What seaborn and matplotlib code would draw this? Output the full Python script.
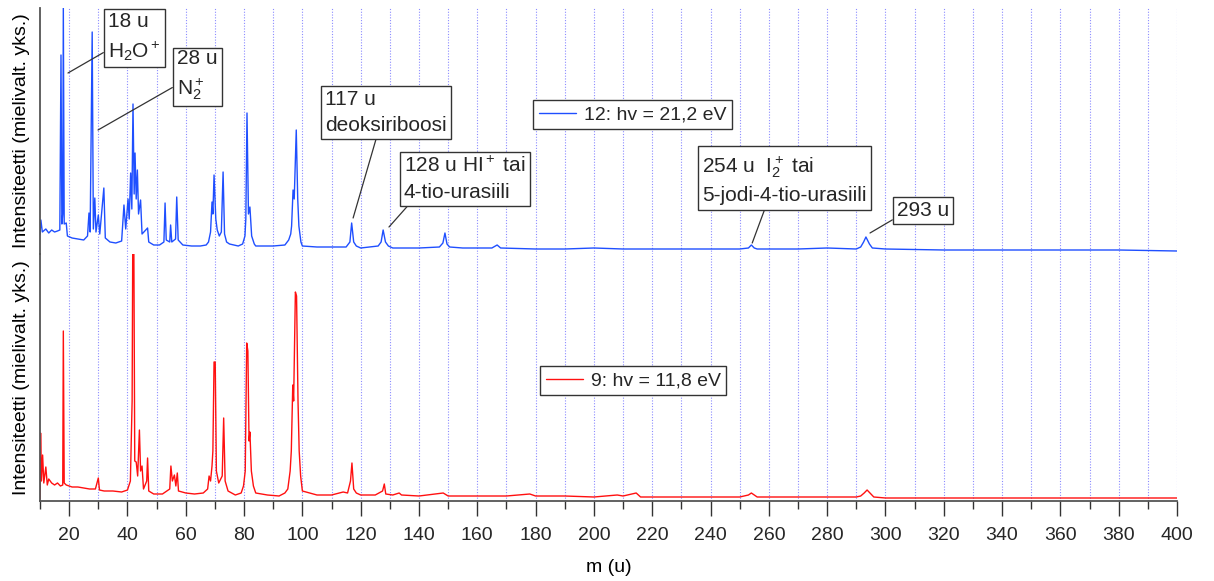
import matplotlib
matplotlib.use("Agg")
import matplotlib.pyplot as plt
import seaborn as sns
import numpy as np

# spectrum 12 (hv = 21,2 eV): mass (u) and intensity (arb.)
blue_m = [10.0, 10.3, 10.8, 12, 13, 14, 15, 16, 16.8, 17.2, 17.5, 17.8, 18.0, 18.3, 19.0, 19.4,
          21, 23, 25, 26.3, 26.8, 27.2, 27.9, 28.3, 28.8, 29.2, 30.0, 30.5, 31.9, 32.4, 34, 36, 38,
          38.8, 39.4, 40.2, 40.6, 41.1, 41.5, 41.9, 42.3, 42.6, 43.0, 43.4, 43.8, 44.5, 45, 46.9, 47.3,
          49, 51, 52.5, 52.9, 53.3, 54.5, 54.8, 55.2, 56.5, 56.9, 57.4, 59, 62, 65, 67, 67.8, 68.5,
          69.0, 69.3, 69.7, 70.3, 70.8, 71.5, 72.2, 72.8, 73.3, 74, 75, 78, 79.5, 80.3, 80.6, 81.0,
          81.5, 82.0, 82.6, 83.5, 84, 90, 94, 95.3, 96.0, 96.3, 96.8, 97.2, 97.9, 98.4, 98.8, 99.5,
          100, 105, 110, 115, 116.3, 116.9, 117.6, 118.5, 120, 126, 127.0, 127.7, 128.5, 129.5, 131,
          135, 140, 147, 148.2, 148.9, 149.6, 150.5, 155, 160, 165, 166.8, 168, 180, 190, 200, 210,
          230, 250, 253, 254, 255, 256, 270, 280, 290, 291.5, 292.5, 293.3, 294.5, 295.5, 300, 320,
          340, 360, 380, 400]
blue_i = [20, 34, 22, 25, 21, 24, 22, 23, 24, 199, 30, 40, 246, 30, 31, 18,
          16, 15, 14, 18, 41, 22, 222, 25, 56, 22, 39, 20, 66, 16, 12, 11, 13,
          49, 25, 55, 35, 81, 45, 150, 60, 101, 55, 84, 40, 54, 20, 26, 12,
          9, 9, 12, 51, 14, 12, 29, 12, 15, 57, 14, 9, 8, 8, 9, 12, 22,
          52, 40, 79, 35, 24, 18, 22, 82, 20, 12, 10, 8, 10, 18, 35, 141,
          40, 47, 18, 10, 8, 8, 9, 14, 20, 28, 64, 55, 124, 55, 28, 12,
          8, 7, 7, 7, 12, 31, 12, 8, 6, 8, 12, 24, 12, 8, 6,
          6, 6, 7, 11, 21, 10, 7, 6, 6, 6, 9, 6, 5, 5, 6, 5,
          5, 5, 6, 9, 6, 5, 5, 6, 5, 7, 12, 17, 10, 6, 5, 4,
          4, 4, 4, 3]

# spectrum 9 (hv = 11,8 eV)
red_m = [10.0, 10.2, 10.5, 10.9, 11.3, 12.0, 12.5, 13, 14, 15, 16, 17, 17.8, 18.0, 18.3, 19, 21,
         23, 25, 27, 29, 30.0, 30.4, 32, 35, 38, 40, 41, 41.6, 41.8, 42.2, 42.5, 43, 43.5, 44.1,
         44.5, 45, 45.5, 46.6, 46.9, 47.3, 49, 52, 54.5, 54.9, 55.4, 56.1, 56.6, 57.1, 57.5, 60,
         63, 66, 67.5, 68, 68.5, 69.0, 69.3, 69.7, 70.1, 70.5, 71.3, 72.5, 73.0, 73.5, 74.5, 77,
         79, 79.8, 80.4, 80.9, 81.3, 81.7, 82.0, 82.5, 83.2, 84, 88, 92, 94, 95, 95.8, 96.2, 96.7,
         97.0, 97.6, 98.0, 98.5, 98.9, 99.4, 100, 105, 110, 114, 115.5, 116.5, 117.0, 117.6, 118.5,
         120, 125, 127.5, 128.1, 128.6, 131, 133.2, 134, 140, 148.3, 150, 160, 170, 178, 180, 190,
         200, 208, 210, 214.5, 216, 230, 250, 253, 254, 255, 256, 270, 280, 290, 291.5, 292.7,
         293.7, 295, 296, 300, 320, 350, 380, 400]
red_i = [2, 68, 20, 46, 18, 34, 16, 22, 18, 16, 18, 15, 16, 170, 18, 16, 14,
         14, 13, 12, 12, 23, 11, 10, 10, 9, 11, 20, 100, 247, 247, 40, 39, 25, 71,
         30, 35, 12, 20, 43, 10, 7, 7, 12, 35, 20, 26, 15, 28, 10, 8,
         7, 8, 12, 25, 20, 35, 50, 139, 139, 30, 18, 25, 83, 20, 10, 6,
         8, 15, 30, 158, 150, 60, 69, 30, 15, 8, 6, 5, 8, 12, 30, 50, 116,
         100, 209, 205, 100, 50, 25, 10, 6, 6, 9, 8, 20, 38, 12, 8,
         6, 6, 10, 17, 7, 6, 8, 6, 5, 8, 5, 5, 5, 7, 5, 5,
         4, 6, 5, 8, 4, 4, 4, 6, 8, 6, 4, 4, 4, 4, 5, 8,
         11, 7, 4, 3, 3, 3, 3, 3]

blue_label = "12: hv = 21,2 eV"
red_label = "9: hv = 11,8 eV"
ylabel = "Intensiteetti (mielivalt. yks.)"
xlabel = "m (u)"

sns.set_theme(style="white")
plt.rcParams["font.family"] = ["Liberation Sans", "DejaVu Sans"]
plt.rcParams["mathtext.fontset"] = "custom"
plt.rcParams["mathtext.rm"] = "Liberation Sans"
plt.rcParams["mathtext.it"] = "Liberation Sans:italic"

W, H = 1214, 581
fig = plt.figure(figsize=(W / 100, H / 100), dpi=100)
left, right = 40 / W, 1177 / W
ax_top = fig.add_axes([left, 1 - 254 / H, right - left, 246 / H])
ax_bot = fig.add_axes([left, 1 - 501 / H, right - left, 247 / H])

sns.lineplot(x=blue_m, y=blue_i, ax=ax_top, color="#1f4fff", linewidth=1, label=blue_label)
sns.lineplot(x=red_m, y=red_i, ax=ax_bot, color="#ff1010", linewidth=1, label=red_label)

grid_kw = dict(color="#8c8cff", linestyle=(0, (1, 1.5)), linewidth=0.8, zorder=0)
for ax, top in [(ax_top, 246), (ax_bot, 247)]:
    ax.set_xlim(10, 400)
    ax.set_ylim(0, top)
    ax.set_yticks([])
    ax.set_xticks(np.arange(20, 401, 20))
    ax.set_xticks(np.arange(10, 401, 10), minor=True)
    ax.grid(False)
    for g in np.arange(20, 401, 10):
        ax.axvline(g, **grid_kw)
    for s in ["top", "right", "bottom"]:
        ax.spines[s].set_visible(False)
    ax.spines["left"].set_color("#555555")
    ax.spines["left"].set_linewidth(1.3)
    ax.set_ylabel(ylabel, fontsize=14, color="black")
    ax.yaxis.set_label_coords(-0.009, 0.5)
    ax.patch.set_alpha(0)

ax_top.set_xticks([])
ax_top.set_xticks([], minor=True)
ax_top.set_xlabel("")
ax_bot.spines["bottom"].set_visible(True)
ax_bot.spines["bottom"].set_color("#555555")
ax_bot.spines["bottom"].set_linewidth(1.3)
ax_bot.tick_params(axis="x", which="major", direction="out", length=10.5, width=1,
                   color="#333333", labelsize=14, pad=8, bottom=True)
ax_bot.tick_params(axis="x", which="minor", direction="out", length=6, width=1,
                   color="#333333", bottom=True)
ax_bot.set_xlabel(xlabel, fontsize=14, labelpad=11, color="black")

leg_kw = dict(fontsize=14, loc="upper left", frameon=True, fancybox=False, framealpha=1,
              edgecolor="#333333", handlelength=1.9, handletextpad=0.4, borderpad=0.3,
              borderaxespad=0)
lg = ax_top.legend(bbox_to_anchor=(533 / W, 1 - 100 / H), bbox_transform=fig.transFigure, **leg_kw)
lg.get_frame().set_linewidth(1)
lg = ax_bot.legend(bbox_to_anchor=(540 / W, 1 - 366 / H), bbox_transform=fig.transFigure, **leg_kw)
lg.get_frame().set_linewidth(1)

# annotations: text, peak end (m, intensity), box top-left in pixels, line attach point
notes = [
    ("18 u\n$\\mathregular{H_2O^+}$", (19.6, 181), (104, 8), (0, 0.25)),
    ("28 u\n$\\mathregular{N_2^+}$", (29.9, 124), (173, 45), (0, 0.32)),
    ("117 u\ndeoksiriboosi", (117.4, 36), (321, 86), (0.43, 0)),
    ("128 u HI$\\mathregular{^+}$ tai\n4-tio-urasiili", (129.7, 27), (400, 152), (0.06, 0)),
    ("254 u  I$\\mathregular{_2^+}$ tai\n5-jodi-4-tio-urasiili", (254.3, 11), (698, 150), (0.39, 0)),
    ("293 u", (294.7, 21), (893, 197), (0, 0.15)),
]
for txt, xy, (bx, by), rel in notes:
    ax_top.annotate(txt, xy=xy, xycoords="data",
                    xytext=(bx + 4, H - by - 4), textcoords="figure pixels",
                    ha="left", va="top", fontsize=15, linespacing=1.45,
                    bbox=dict(boxstyle="square,pad=0.2", fc="white", ec="#333333", lw=1),
                    arrowprops=dict(arrowstyle="-", color="#333333", lw=0.9,
                                    relpos=rel, shrinkA=0, shrinkB=0),
                    annotation_clip=False, zorder=5)

fig.savefig("out.png", dpi=100)
